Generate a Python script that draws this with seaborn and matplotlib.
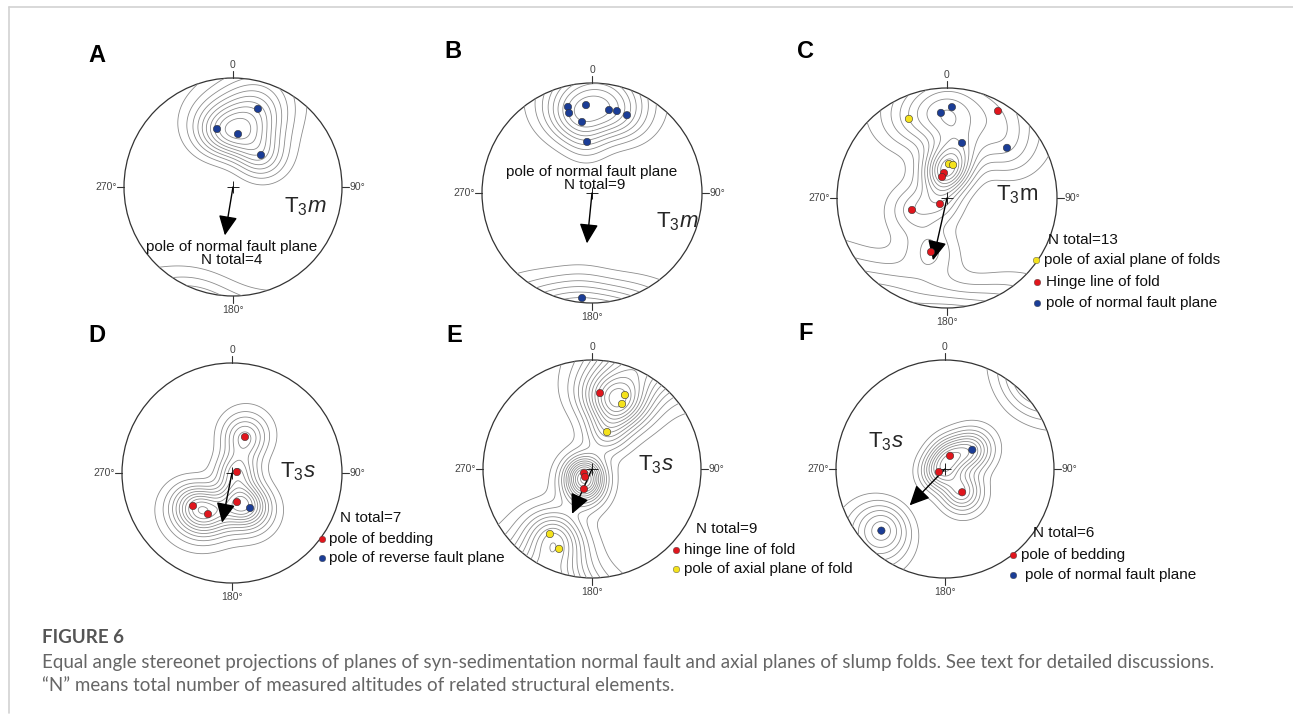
import numpy as np
import pandas as pd
import seaborn as sns
import matplotlib.pyplot as plt
from matplotlib.patches import Circle

W, H = 1293, 715

# poles / lines: trend and plunge in degrees
a_trend = [17.7, 344.6, 5.4, 41.2]
a_plunge = [16.1, 32.2, 38.0, 47.4]
a_kind = ['fault'] * 4

b_trend = [344.4, 344.0, 356.1, 11.6, 16.9, 24.2, 352.0, 354.5, 185.4]
b_plunge = [11.8, 15.8, 12.6, 14.8, 14.2, 14.4, 23.8, 40.0, 2.4]
b_kind = ['fault'] * 9

c_trend = [355.9, 3.1, 15.3, 50.1, 30.4, 353.2, 346.7, 229.3, 251.1, 196.5, 334.3, 3.3, 10.4]
c_plunge = [14.4, 10.8, 35.2, 19.2, 5.0, 64.2, 67.8, 80.4, 52.8, 35.8, 12.8, 55.6, 56.0]
c_kind = ['fault'] * 4 + ['hinge'] * 6 + ['axial'] * 3

d_trend = [19.8, 78.7, 170.3, 229.8, 210.3, 152.7]
d_plunge = [51.6, 84.8, 60.0, 40.2, 43.2, 50.6]
d_kind = ['bedding'] * 5 + ['reverse']

e_trend = [6.0, 243.1, 221.2, 201.8, 24.0, 24.8, 22.2, 212.9, 202.4]
e_plunge = [20.0, 80.6, 79.0, 67.6, 16.8, 23.4, 49.8, 19.2, 13.2]
e_kind = ['hinge'] * 4 + ['axial'] * 5

f_trend = [21.0, 243.4, 143.6, 54.9, 225.9]
f_plunge = [75.3, 82.9, 60.3, 56.0, 11.8]
f_kind = ['bedding'] * 3 + ['fault'] * 2

# slump direction arrows (trend in degrees, length in net radii)
arrow_trend = [189.5, 185.7, 192.7, 191.3, 204.0, 224.2]
arrow_len = [0.45, 0.46, 0.58, 0.46, 0.45, 0.465]

kind_colors = {'fault': '#1b3d96', 'reverse': '#1b3d96', 'hinge': '#e0161d',
               'bedding': '#e0161d', 'axial': '#f4e21c'}

sns.set_theme(style='white')
plt.rcParams['font.family'] = ['Liberation Sans', 'DejaVu Sans']
plt.rcParams['mathtext.fontset'] = 'custom'
plt.rcParams['mathtext.rm'] = 'Liberation Sans'
plt.rcParams['mathtext.it'] = 'Liberation Sans:italic'


def to_xyz(trend, plunge):
    t = np.radians(trend)
    p = np.radians(plunge)
    return np.stack([np.cos(p) * np.sin(t), np.cos(p) * np.cos(t), np.sin(p)], axis=-1)


def project(trend, plunge):
    rho = np.tan(np.radians(90 - np.asarray(plunge, float)) / 2)
    t = np.radians(trend)
    return rho * np.sin(t), rho * np.cos(t)


# grid for the contouring of the poles (lower hemisphere, equal angle)
g = np.linspace(-1.05, 1.05, 321)
GX, GY = np.meshgrid(g, g)
grho = np.hypot(GX, GY)
gvec = to_xyz(np.degrees(np.arctan2(GX, GY)), np.degrees(np.pi / 2 - 2 * np.arctan(grho)))

panels = [
    dict(trend=a_trend, plunge=a_plunge, kind=a_kind, cx=233, cy=187, r=109,
         k=13, n=10, lo=0.1, hi=0.92, unit=r'$\mathrm{T}_3\mathit{m}$', unit_xy=(305, 207)),
    dict(trend=b_trend, plunge=b_plunge, kind=b_kind, cx=592, cy=193, r=110,
         k=16, n=9, lo=0.1, hi=0.9, unit=r'$\mathrm{T}_3\mathit{m}$', unit_xy=(677, 222)),
    dict(trend=c_trend, plunge=c_plunge, kind=c_kind, cx=947, cy=198, r=110,
         k=14, n=11, lo=0.08, hi=0.92, unit=r'$\mathrm{T}_3\mathrm{m}$', unit_xy=(1017, 195)),
    dict(trend=d_trend, plunge=d_plunge, kind=d_kind, cx=232, cy=473, r=110,
         k=16, n=11, lo=0.08, hi=0.92, unit=r'$\mathrm{T}_3\mathit{s}$', unit_xy=(298, 472)),
    dict(trend=e_trend, plunge=e_plunge, kind=e_kind, cx=592, cy=469, r=109,
         k=16, n=13, lo=0.06, hi=0.94, unit=r'$\mathrm{T}_3\mathit{s}$', unit_xy=(656, 465)),
    dict(trend=f_trend, plunge=f_plunge, kind=f_kind, cx=945, cy=469, r=109,
         k=18, n=10, lo=0.1, hi=0.92, unit=r'$\mathrm{T}_3\mathit{s}$', unit_xy=(886, 442)),
]

fig = plt.figure(figsize=(W / 100, H / 100), dpi=100)

for i, p in enumerate(panels):
    cx, cy, r = p['cx'], p['cy'], p['r']
    ax = fig.add_axes([(cx - r) / W, (H - cy - r) / H, 2 * r / W, 2 * r / H])

    # density contours
    pv = to_xyz(np.asarray(p['trend']), np.asarray(p['plunge']))
    dens = np.exp(p['k'] * (np.abs(gvec @ pv.T) - 1)).sum(-1)
    dmax = dens[grho <= 1].max()
    levels = dmax * np.linspace(p['lo'], p['hi'], p['n'])
    rim = Circle((0, 0), 1, transform=ax.transData, facecolor='none')
    cs = ax.contour(GX, GY, dens, levels=levels, colors='#8c8c8c', linewidths=0.6)
    cs.set_clip_path(rim)

    # primitive circle and N/E/S/W ticks
    ax.add_patch(Circle((0, 0), 1, facecolor='none', edgecolor='#333333', lw=0.9, clip_on=False))
    for tx, ty in [(0, 1), (1, 0), (0, -1), (-1, 0)]:
        ax.plot([tx, tx * 1.065], [ty, ty * 1.065], color='#333333', lw=0.8, clip_on=False)
    lab = dict(fontsize=7.5, color='#444444', clip_on=False)
    ax.text(0, 1.12, '0', ha='center', va='center', **lab)
    ax.text(0, -1.13, '180°', ha='center', va='center', **lab)
    ax.text(1.07, 0, '90°', ha='left', va='center', **lab)
    ax.text(-1.065, 0, '270°', ha='right', va='center', **lab)

    # poles
    x, y = project(p['trend'], p['plunge'])
    df = pd.DataFrame({'x': x, 'y': y, 'kind': p['kind']})
    sns.scatterplot(data=df, x='x', y='y', hue='kind', palette=kind_colors, s=28,
                    edgecolor='#333333', linewidth=0.4, legend=False, ax=ax, zorder=5)

    # centre cross and slump arrow
    ax.plot([0], [0], marker='+', ms=8, mew=0.7, color='#222222')
    t = np.radians(arrow_trend[i])
    tip = (arrow_len[i] * np.sin(t), arrow_len[i] * np.cos(t))
    ax.annotate('', xy=tip, xytext=(0, 0),
                arrowprops=dict(arrowstyle='-|>,head_length=0.75,head_width=0.36',
                                mutation_scale=16, lw=1.0, color='black',
                                shrinkA=0, shrinkB=0))

    ax.set_xlim(-1, 1)
    ax.set_ylim(-1, 1)
    ax.set_aspect('equal')
    ax.axis('off')

# overlay in pixel units for labels, legends and caption
ov = fig.add_axes([0, 0, 1, 1])
ov.set_xlim(0, W)
ov.set_ylim(H, 0)
ov.axis('off')
ov.plot([9, W], [7, 7], color='#d2d2d2', lw=1.2)
ov.plot([9, 9], [7, 713], color='#d2d2d2', lw=1.2)

for tag, (lx, ly) in zip('ABCDEF', [(97, 55), (453, 52), (805, 52), (97, 335), (454, 335), (806, 334)]):
    ov.text(lx, ly, tag, fontsize=17, fontweight='bold', ha='center', va='center', color='black')

for p in panels:
    ov.text(p['unit_xy'][0], p['unit_xy'][1], p['unit'], fontsize=16, ha='center', va='center')

txt = dict(fontsize=11, color='#111111', va='center')
ov.text(232, 247, 'pole of normal fault plane', ha='center', **txt)
ov.text(232, 260, 'N total=4', ha='center', **txt)
ov.text(592, 172, 'pole of normal fault plane', ha='center', **txt)
ov.text(595, 185, 'N total=9', ha='center', **txt)


def legend(nx, ny, text_n, rows):
    ov.text(nx, ny, text_n, ha='left', **txt)
    for mx, my, tx, kind, label in rows:
        ov.scatter([mx], [my], s=22, color=kind_colors[kind], edgecolor='#444444', linewidth=0.3, zorder=5)
        ov.text(tx, my, label, ha='left', **txt)


legend(1048, 240, 'N total=13', [(1036, 260, 1044, 'axial', 'pole of axial plane of folds'),
                                 (1037, 282, 1046, 'hinge', 'Hinge line of fold'),
                                 (1037, 303, 1046, 'fault', 'pole of normal fault plane')])
legend(340, 518, 'N total=7', [(322, 539, 329, 'bedding', 'pole of bedding'),
                               (322, 558, 329, 'reverse', 'pole of reverse fault plane')])
legend(696, 529, 'N total=9', [(676, 550, 684, 'hinge', 'hinge line of fold'),
                               (676, 569, 684, 'axial', 'pole of axial plane of fold')])
legend(1033, 533, 'N total=6', [(1013, 555, 1021, 'bedding', 'pole of bedding'),
                                (1013, 575, 1025, 'fault', 'pole of normal fault plane')])

# caption
ov.text(42, 643, 'FIGURE 6', fontsize=13.5, fontweight='bold', color='#555555',
        family=['Lato', 'DejaVu Sans'], ha='left', va='baseline')
cap = dict(fontsize=13.5, color='#666666', family=['Lato', 'DejaVu Sans'], ha='left', va='baseline')
ov.text(42, 668, 'Equal angle stereonet projections of planes of syn-sedimentation normal fault and '
        'axial planes of slump folds. See text for detailed discussions.', **cap)
ov.text(42, 691, '\u201cN\u201d means total number of measured altitudes of related structural elements.', **cap)

fig.savefig('out.png', dpi=100)
